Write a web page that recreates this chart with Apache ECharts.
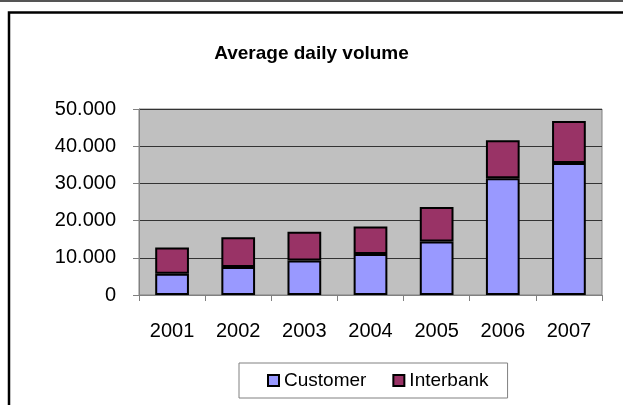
<!DOCTYPE html>
<html><head><meta charset="utf-8">
<script src="https://cdn.jsdelivr.net/npm/echarts@6/dist/echarts.min.js"></script>
<style>html,body{margin:0;padding:0;background:#fff}#c{width:623px;height:405px}</style>
</head><body><div id="c"></div>
<script>
var years = ['2001','2002','2003','2004','2005','2006','2007'];
var customer = [5700, 7500, 9300, 11000, 14400, 31400, 35500];
var interbank = [7100, 8000, 7700, 7400, 9250, 10200, 11300];
var yTicks = [0, 10000, 20000, 30000, 40000, 50000];

var chart = echarts.init(document.getElementById('c'));
var font = 'Helvetica, "Liberation Sans", Arial, sans-serif';
chart.setOption({
  animation: false,
  backgroundColor: '#fff',
  graphic: [
    {type:'line', shape:{x1:0,y1:1,x2:623,y2:1}, style:{stroke:'#555',lineWidth:2}},
    {type:'polyline', shape:{points:[[9,410],[9,12.5],[630,12.5]]}, style:{stroke:'#000',lineWidth:2.5,fill:null}}
  ],
  title: {
    text: 'Average daily volume', left: 'center', top: 39,
    textStyle: {fontFamily: font, fontSize: 19, fontWeight: 'bold', color: '#000'}
  },
  grid: {left: 139, right: 21, top: 109, bottom: 110, show: true,
         backgroundColor: '#C0C0C0', borderColor: '#808080', borderWidth: 1},
  legend: {
    left: 239, top: 363, data: ['Customer','Interbank'],
    backgroundColor: '#fff', borderColor: '#808080', borderWidth: 1,
    padding: [8, 19, 8, 28], itemGap: 26, itemWidth: 11, itemHeight: 11, icon: 'rect',
    textStyle: {fontFamily: font, fontSize: 19, color: '#000'}
  },
  xAxis: {
    type: 'category', data: years,
    axisLine: {lineStyle: {color: '#808080', width: 1}},
    axisTick: {show: true, length: 6, lineStyle: {color: '#808080'}},
    axisLabel: {fontFamily: font, fontSize: 20, color: '#000', margin: 26}
  },
  yAxis: {
    type: 'value', min: yTicks[0], max: yTicks[yTicks.length-1], interval: 10000,
    axisLine: {show: true, lineStyle: {color: '#808080', width: 1}},
    axisTick: {show: true, length: 6, lineStyle: {color: '#808080'}},
    splitLine: {show: true, lineStyle: {color: '#333', width: 1}},
    axisLabel: {fontFamily: font, fontSize: 20, color: '#000', margin: 23,
      formatter: function(v){ return v === 0 ? '0' : (v/1000).toFixed(0) + '.000'; }}
  },
  series: [
    {name: 'Customer', type: 'bar', stack: 't', data: customer, barWidth: '51%',
     itemStyle: {color: '#9999FF', borderColor: '#000', borderWidth: 2}},
    {name: 'Interbank', type: 'bar', stack: 't', data: interbank, barWidth: '51%',
     itemStyle: {color: '#993366', borderColor: '#000', borderWidth: 2}}
  ]
});
</script></body></html>
